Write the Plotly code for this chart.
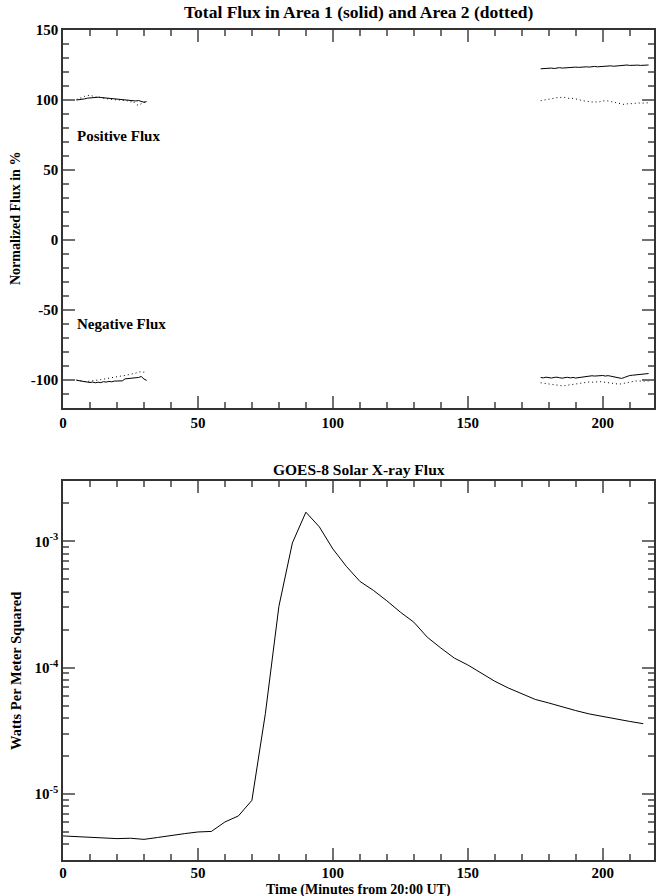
import plotly.graph_objects as go

# ---------------- data ----------------
t_left = list(range(5, 32))
t_right = list(range(177, 218))

pos_a1_left = [100.0, 100.1, 100.3, 100.8, 101.3, 101.5, 102.0, 102.3, 102.0, 101.8, 101.6, 101.5, 101.2, 101.0,
               100.8, 100.6, 100.4, 100.5, 100.2, 99.9, 100.1, 99.7, 99.3, 99.6, 98.9, 98.4, 98.8]
pos_a2_left = [100.5, 101.0, 101.8, 102.6, 103.2, 103.5, 102.8, 102.0, 102.3, 101.7, 101.2, 100.8, 100.9, 100.3,
               100.0, 100.4, 99.8, 99.5, 99.9, 99.2, 98.6, 99.0, 96.8, 96.2, 97.5, 98.5, 98.3]
neg_a1_left = [-100.2, -100.5, -100.8, -101.0, -101.4, -101.8, -101.5, -102.0, -101.6, -101.9, -101.2, -101.5, -101.0,
               -101.3, -100.8, -100.9, -100.5, -100.6, -99.2, -99.0, -98.8, -98.9, -98.6, -98.2, -97.5, -99.3, -100.3]
neg_a2_left = [-100.0, -100.4, -100.9, -101.2, -101.0, -100.8, -100.9, -100.5, -100.2, -99.8, -99.4, -99.0, -98.7,
               -98.4, -98.0, -97.9, -97.4, -97.0, -96.8, -96.5, -96.0, -95.5, -95.0, -94.3, -94.0, -94.5, -94.2]

pos_a1_right = [122.3, 122.5, 122.2, 122.6, 122.8, 122.5, 122.9, 123.1, 122.8, 123.0, 123.3, 123.0, 123.2, 123.5,
                123.3, 123.6, 123.4, 123.7, 123.5, 123.8, 124.0, 123.7, 123.9, 124.1, 123.9, 124.2, 124.4, 124.1,
                124.3, 124.6, 124.5, 124.8, 125.0, 124.7, 124.9, 125.1, 124.9, 124.7, 124.8, 124.9, 125.0]
pos_a2_right = [99.5, 99.8, 100.2, 100.5, 101.0, 101.4, 101.8, 102.0, 101.6, 101.9, 101.4, 100.9, 101.2, 100.6,
                100.2, 99.8, 99.4, 99.0, 98.8, 98.5, 98.9, 98.4, 98.8, 99.2, 99.6, 99.3, 98.9, 98.5, 97.9, 97.4,
                97.0, 96.8, 97.2, 97.6, 97.3, 97.8, 98.0, 97.7, 97.9, 98.2, 98.0]
neg_a1_right = [-98.2, -98.5, -98.0, -98.3, -98.6, -98.2, -98.0, -98.4, -98.7, -98.3, -98.1, -98.5, -98.2, -98.6,
                -98.3, -97.9, -97.6, -97.8, -97.4, -97.0, -97.2, -96.9, -97.1, -96.8, -97.2, -96.9, -97.3, -97.8,
                -98.3, -98.7, -98.9, -98.2, -97.4, -96.8, -96.6, -96.4, -96.1, -95.9, -95.6, -95.3, -95.4]
neg_a2_right = [-102.0, -102.3, -102.7, -103.0, -103.3, -103.6, -103.8, -104.0, -104.2, -104.0, -103.7, -103.3,
                -103.0, -102.6, -102.2, -101.9, -101.7, -101.5, -101.4, -101.6, -101.3, -101.5, -101.2, -101.4,
                -101.6, -101.9, -102.3, -102.6, -102.9, -103.0, -102.7, -102.3, -101.8, -101.3, -101.0, -100.8,
                -100.7, -100.9, -100.6, -100.8, -100.7]

goes_t = list(range(0, 220, 5))
goes_flux = [4.65e-6, 4.58e-6, 4.52e-6, 4.47e-6, 4.43e-6, 4.46e-6, 4.37e-6, 4.52e-6, 4.70e-6, 4.85e-6, 5.0e-6,
             5.05e-6, 6.0e-6, 6.7e-6, 8.9e-6, 4.34e-5, 3.05e-4, 9.7e-4, 1.70e-3, 1.30e-3, 8.7e-4, 6.33e-4, 4.82e-4,
             4.09e-4, 3.38e-4, 2.75e-4, 2.29e-4, 1.74e-4, 1.43e-4, 1.19e-4, 1.05e-4, 9.1e-5, 7.8e-5, 6.9e-5, 6.2e-5,
             5.6e-5, 5.25e-5, 4.88e-5, 4.57e-5, 4.30e-5, 4.10e-5, 3.90e-5, 3.75e-5, 3.60e-5]

x_ticks = [0, 50, 100, 150, 200]
x_ticktext = ["0", "50", "100", "150", "200"]
y1_ticks = [-100, -50, 0, 50, 100, 150]
y1_ticktext = ["-100", "-50", "0", "50", "100", "150"]
y2_ticks = [1e-5, 1e-4, 1e-3]
y2_ticktext = ["10<sup>-5</sup>", "10<sup>-4</sup>", "10<sup>-3</sup>"]

# ---------------- figure ----------------
FONT = "Liberation Serif"
TC = "#707070"
line = dict(color="black", width=1)
dot = dict(color="black", width=1, dash="1px,3px")

fig = go.Figure()
for t, s, st in [(t_left, pos_a1_left, line), (t_left, pos_a2_left, dot),
                 (t_left, neg_a1_left, line), (t_left, neg_a2_left, dot),
                 (t_right, pos_a1_right, line), (t_right, pos_a2_right, dot),
                 (t_right, neg_a1_right, line), (t_right, neg_a2_right, dot)]:
    fig.add_trace(go.Scatter(x=t, y=s, mode="lines", line=st, xaxis="x", yaxis="y",
                             showlegend=False, hoverinfo="skip"))

fig.add_trace(go.Scatter(x=goes_t, y=goes_flux, mode="lines", line=line, xaxis="x2", yaxis="y2",
                         showlegend=False, hoverinfo="skip"))

minor_log = [m * 10.0 ** e for e in range(-6, -2) for m in range(2, 10)]
minor_log = [v for v in minor_log if 3e-6 <= v <= 3e-3]

tf = dict(family=FONT, size=15, color="black", weight="bold")
base = dict(showline=True, linecolor="#333", linewidth=1.5, mirror="ticks", showgrid=False, zeroline=False,
            ticks="inside", ticklen=12, tickwidth=2, tickcolor=TC, tickfont=tf, layer="above traces")
minor_lin = dict(dtick=10, ticklen=6, ticks="inside", tickcolor=TC, tickwidth=2)

fig.update_layout(
    template="none",
    width=657, height=896,
    margin=dict(l=63, r=3, t=30, b=36),
    paper_bgcolor="white", plot_bgcolor="white",
    xaxis=dict(base, domain=[0, 1], range=[0, 219], tickvals=x_ticks, ticktext=x_ticktext, anchor="y",
               minor=minor_lin),
    yaxis=dict(base, domain=[0.5446, 1.0], range=[-120, 150], tickvals=y1_ticks, ticktext=y1_ticktext,
               anchor="x", minor=minor_lin),
    xaxis2=dict(base, domain=[0, 1], range=[0, 219], tickvals=x_ticks, ticktext=x_ticktext, anchor="y2",
                minor=minor_lin, ticklabelstandoff=-2),
    yaxis2=dict(base, domain=[0.0, 0.4566], type="log", range=[-5.5229, -2.5229],
                tickvals=y2_ticks, ticktext=y2_ticktext, anchor="x2",
                minor=dict(tickvals=minor_log, ticklen=6, ticks="inside", tickcolor=TC, tickwidth=2)),
)

lab_font = dict(family=FONT, size=14.5, color="black", weight="bold")
common_ann = dict(xref="paper", yref="paper", showarrow=False, xanchor="center", yanchor="middle")
fig.add_annotation(common_ann, text="Total Flux in Area 1 (solid) and Area 2 (dotted)",
                   x=0.5, y=(860 - 12) / 830, font=dict(lab_font, size=17.5))
fig.add_annotation(common_ann, text="GOES-8 Solar X-ray Flux",
                   x=0.5, y=(860 - 470) / 830, font=dict(lab_font, size=15.5))
fig.add_annotation(common_ann, text="Normalized Flux in %", textangle=-90,
                   x=(15 - 63) / 591, y=(860 - 219) / 830, font=dict(lab_font, size=14))
fig.add_annotation(common_ann, text="Watts Per Meter Squared", textangle=-90,
                   x=(16 - 63) / 591, y=(860 - 671) / 830, font=lab_font)
fig.add_annotation(common_ann, text="Time (Minutes from 20:00 UT)",
                   x=0.5, y=(860 - 889.5) / 830, font=dict(lab_font, size=14))
fig.add_annotation(text="Positive Flux", xref="x", yref="y", x=4.4, y=74, xanchor="left", yanchor="middle",
                   showarrow=False, font=dict(lab_font, size=15))
fig.add_annotation(text="Negative Flux", xref="x", yref="y", x=4.4, y=-60, xanchor="left", yanchor="middle",
                   showarrow=False, font=dict(lab_font, size=15))

fig.write_html("out.html", config={"displayModeBar": False},
               post_script="document.body.style.margin='0px';")
